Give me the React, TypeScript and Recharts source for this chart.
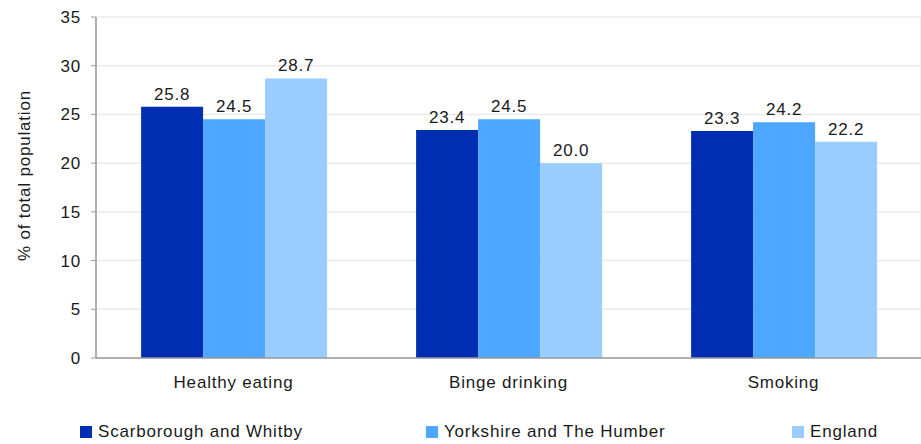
import React from 'react';
import { BarChart, Bar, XAxis, YAxis, CartesianGrid, Legend, LabelList } from 'recharts';

const categories = ['Healthy eating', 'Binge drinking', 'Smoking'];
const scarborough = [25.8, 23.4, 23.3];
const yorkshire = [24.5, 24.5, 24.2];
const england = [28.7, 20.0, 22.2];
const seriesNames = ['Scarborough and Whitby', 'Yorkshire and The Humber', 'England'];
const yTicks = [0, 5, 10, 15, 20, 25, 30, 35];
const boundaryTicks = [0, 1, 2, 3];

const colors = ['#002EB2', '#4DA6FF', '#99CCFF'];
const keys = ['s', 'y', 'e'];
const FONT = '"Liberation Sans", Arial, sans-serif';
const TEXT = '#1a1a1a';
const AXIS = '#9a9a9a';
const GRID = '#ebebeb';
const FS = 17;
const LS = 0.8;

const data = categories.map((c, i) => ({ name: c, s: scarborough[i], y: yorkshire[i], e: england[i] }));

const legendLefts = [80, 426, 792];

const renderLegend = () => (
  <div style={{ position: 'relative', height: 36, fontFamily: FONT, fontSize: FS, letterSpacing: LS, color: TEXT }}>
    {seriesNames.map((n, i) => (
      <div
        key={n}
        style={{ position: 'absolute', left: legendLefts[i], top: 14, display: 'flex', alignItems: 'center', whiteSpace: 'nowrap' }}
      >
        <span style={{ width: 12, height: 12, background: colors[i], marginRight: 6, display: 'inline-block' }} />
        <span>{n}</span>
      </div>
    ))}
  </div>
);

const YLabel = (props: any) => {
  const vb = props.viewBox || { x: 0, y: 17, width: 96, height: 341 };
  const cx = vb.x + 30;
  const cy = vb.y + vb.height / 2 - 12;
  return (
    <text
      x={cx}
      y={cy}
      transform={`rotate(-90, ${cx}, ${cy})`}
      textAnchor="middle"
      fontFamily={FONT}
      fontSize={FS}
      letterSpacing={LS}
      fill={TEXT}
    >
      % of total population
    </text>
  );
};

export default function App() {
  return (
    <div style={{ position: 'absolute', left: 0, top: 0, background: '#fff' }}>
      <BarChart
        width={921}
        height={444}
        data={data}
        margin={{ top: 17, right: 0, bottom: 0, left: 0 }}
        barCategoryGap="16.4%"
        barGap={0}
      >
        <XAxis
          xAxisId="b"
          type="number"
          domain={[0, 3]}
          ticks={boundaryTicks}
          tick={false}
          tickSize={5}
          axisLine={false}
          stroke={AXIS}
          height={0}
          allowDataOverflow
        />
        <XAxis
          xAxisId="cat"
          dataKey="name"
          height={50}
          tickLine={false}
          tickSize={0}
          tickMargin={18}
          axisLine={{ stroke: AXIS, strokeWidth: 1.5 }}
          tick={{ fill: TEXT, fontSize: FS, fontFamily: FONT, letterSpacing: LS }}
        />
        <YAxis
          width={96}
          domain={[0, 35]}
          ticks={yTicks}
          tickSize={5}
          tickMargin={10}
          axisLine={{ stroke: AXIS, strokeWidth: 1.5 }}
          tickLine={{ stroke: AXIS }}
          tick={{ fill: TEXT, fontSize: FS, fontFamily: FONT, letterSpacing: LS }}
          label={<YLabel />}
        />
        <CartesianGrid xAxisId="b" stroke={GRID} strokeWidth={1.5} />
        <Legend verticalAlign="bottom" height={36} content={renderLegend} />
        {keys.map((k, i) => (
          <Bar key={k} dataKey={k} name={seriesNames[i]} xAxisId="cat" fill={colors[i]} isAnimationActive={false}>
            <LabelList
              dataKey={k}
              position="top"
              offset={7}
              formatter={(v: any) => Number(v).toFixed(1)}
              style={{ fill: TEXT, fontSize: FS, fontFamily: FONT, letterSpacing: LS }}
            />
          </Bar>
        ))}
      </BarChart>
    </div>
  );
}
